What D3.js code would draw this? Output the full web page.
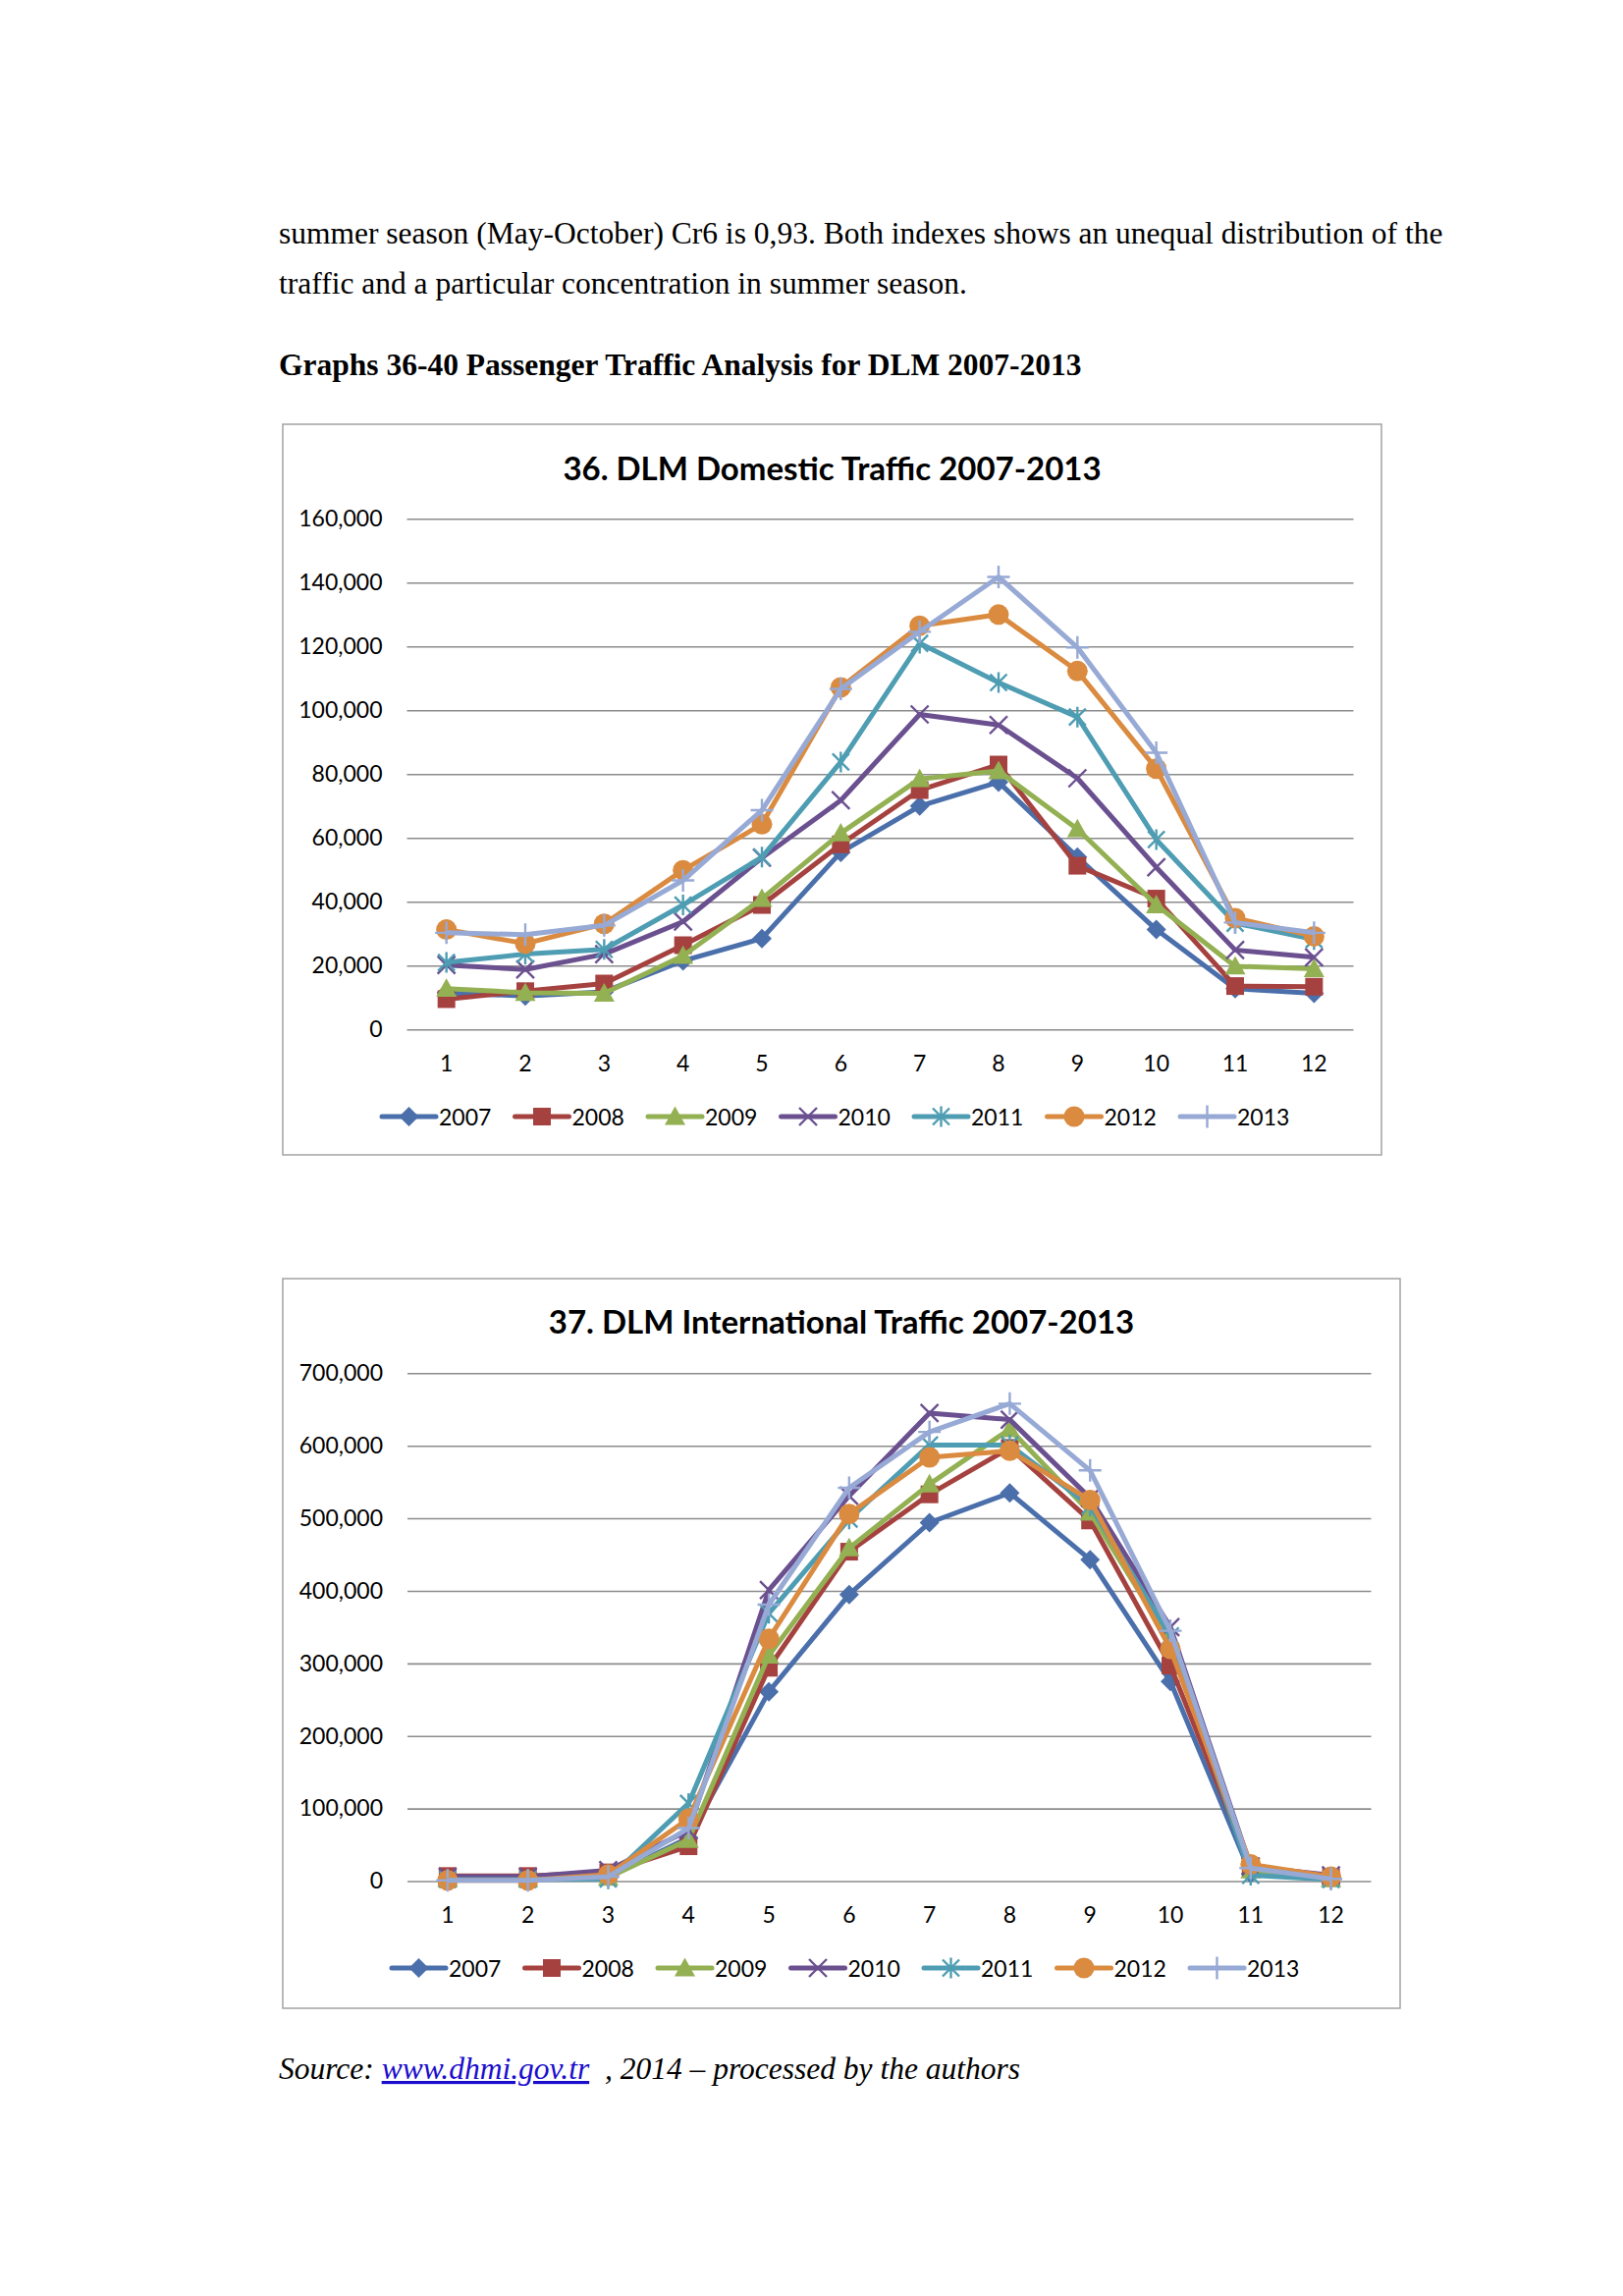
<!DOCTYPE html>
<html lang="en">
<head>
<meta charset="utf-8">
<title>DLM Passenger Traffic 2007-2013</title>
<script src="https://d3js.org/d3.v7.min.js"></script>
<style>
  body { margin: 0; background: #fff; }
</style>
</head>
<body>
<script>
var w = 1653;
var h = 2338;

// categories
var months = [1, 2, 3, 4, 5, 6, 7, 8, 9, 10, 11, 12];
var years = ["2007", "2008", "2009", "2010", "2011", "2012", "2013"];

// 36. domestic traffic
var domestic2007 = [11500, 10500, 11800, 21500, 28500, 55500, 70000, 77500, 54000, 31300, 12800, 11300];
var domestic2008 = [9500, 12000, 14400, 26400, 39000, 58000, 75000, 83000, 51300, 41000, 13600, 13400];
var domestic2009 = [12800, 11500, 11300, 23100, 41000, 61500, 78500, 81000, 62800, 39000, 19800, 19000];
var domestic2010 = [20200, 18800, 23600, 33800, 53800, 71800, 98700, 95400, 78700, 50800, 24900, 22600];
var domestic2011 = [21000, 23600, 25100, 39000, 54000, 83800, 121000, 108700, 97900, 59500, 33300, 28200];
var domestic2012 = [31300, 26900, 33100, 49900, 64300, 107200, 126500, 130000, 112300, 81700, 34900, 29200];
var domestic2013 = [30300, 29700, 32600, 46700, 68700, 106700, 124600, 141800, 119700, 86700, 33500, 30300];
var domesticTicks = [0, 20000, 40000, 60000, 80000, 100000, 120000, 140000, 160000];

// 37. international traffic
var intl2007 = [2000, 2000, 5000, 60000, 261000, 395000, 494000, 535000, 443000, 275000, 10000, 3000];
var intl2008 = [7000, 7000, 12000, 48000, 294000, 454000, 533000, 597000, 497000, 297000, 20000, 5000];
var intl2009 = [3000, 3000, 5000, 57000, 311000, 459000, 547000, 623000, 508000, 330000, 15000, 3000];
var intl2010 = [6000, 6000, 15000, 70000, 401000, 531000, 645000, 636000, 528000, 350000, 20000, 8000];
var intl2011 = [2000, 2000, 3000, 107000, 369000, 499000, 601000, 601000, 517000, 338000, 8000, 2000];
var intl2012 = [1000, 1000, 9000, 86000, 334000, 506000, 584000, 593000, 525000, 320000, 23000, 6000];
var intl2013 = [1000, 1000, 6000, 73000, 381000, 542000, 619000, 658000, 566000, 345000, 18000, 3000];
var intlTicks = [0, 100000, 200000, 300000, 400000, 500000, 600000, 700000];

var colors = ["#4a6fab", "#a5423f", "#93b052", "#6b5090", "#4e9db3", "#da8b40", "#97a9d5"];
var markers = ["diamond", "square", "triangle", "x", "star", "circle", "plus"];

var svg = d3.select("body")
  .append("svg")
  .attr("width", w)
  .attr("height", h);

svg.append("rect")
  .attr("width", w)
  .attr("height", h)
  .style("fill", "#fff");

// page text
var serif = "'Liberation Serif', 'Times New Roman', serif";
svg.append("text")
  .attr("x", 284).attr("y", 248)
  .style("font-family", serif).style("font-size", "31.5px")
  .text("summer season (May-October) Cr6 is 0,93. Both indexes shows an unequal distribution of the");
svg.append("text")
  .attr("x", 284).attr("y", 299)
  .style("font-family", serif).style("font-size", "31.5px")
  .text("traffic and a particular concentration in summer season.");
svg.append("text")
  .attr("x", 284).attr("y", 382)
  .style("font-family", serif).style("font-size", "31.5px").style("font-weight", "bold")
  .text("Graphs 36-40 Passenger Traffic Analysis for DLM 2007-2013");

var src = svg.append("text")
  .attr("x", 284).attr("y", 2117)
  .style("font-family", serif).style("font-size", "31.5px").style("font-style", "italic");
src.append("tspan").text("Source: ");
src.append("tspan").style("fill", "#1a0dcc").style("text-decoration", "underline").text("www.dhmi.gov.tr");
src.append("tspan").text("\u00a0\u00a0, 2014 \u2013 processed by the authors");

function drawMarker(g, type, color) {
  var r;
  if (type === "diamond") {
    r = 10;
    g.append("path").attr("d", "M0," + (-r) + "L" + r + ",0L0," + r + "L" + (-r) + ",0Z").style("fill", color);
  } else if (type === "square") {
    g.append("rect").attr("x", -9).attr("y", -9).attr("width", 18).attr("height", 18).style("fill", color);
  } else if (type === "triangle") {
    r = 10.5;
    g.append("path").attr("d", "M0," + (-r) + "L" + r + "," + (r * 0.8) + "L" + (-r) + "," + (r * 0.8) + "Z").style("fill", color);
  } else if (type === "x") {
    r = 9;
    g.append("path").attr("d", "M" + (-r) + "," + (-r) + "L" + r + "," + r + "M" + (-r) + "," + r + "L" + r + "," + (-r))
      .style("stroke", color).style("stroke-width", 2.4).style("fill", "none");
  } else if (type === "star") {
    r = 8.5;
    g.append("path").attr("d", "M" + (-r) + "," + (-r) + "L" + r + "," + r + "M" + (-r) + "," + r + "L" + r + "," + (-r) + "M0," + (-r - 2) + "L0," + (r + 2))
      .style("stroke", color).style("stroke-width", 2.4).style("fill", "none");
  } else if (type === "circle") {
    g.append("circle").attr("r", 10.5).style("fill", color);
  } else if (type === "plus") {
    r = 11.5;
    g.append("path").attr("d", "M" + (-r) + ",0L" + r + ",0M0," + (-r) + "L0," + r)
      .style("stroke", color).style("stroke-width", 2.4).style("fill", "none");
  }
}

function drawChart(cfg) {
  var g = svg.append("g");

  g.append("rect")
    .attr("x", cfg.frame[0]).attr("y", cfg.frame[1])
    .attr("width", cfg.frame[2] - cfg.frame[0])
    .attr("height", cfg.frame[3] - cfg.frame[1])
    .style("fill", "#fff").style("stroke", "#a3a3a3").style("stroke-width", 1.5);

  g.append("text")
    .attr("x", (cfg.frame[0] + cfg.frame[2]) / 2)
    .attr("y", cfg.titleY)
    .attr("text-anchor", "middle")
    .attr("dominant-baseline", "central")
    .style("font-family", "Lato, sans-serif").style("font-weight", "bold").style("font-size", "33px")
    .text(cfg.title);

  var x = d3.scaleBand().domain(months).range([cfg.left, cfg.right]);
  var y = d3.scaleLinear().domain([0, d3.max(cfg.ticks)]).range([cfg.bottom, cfg.top]);

  var yAxis = g.append("g")
    .attr("transform", "translate(" + cfg.left + ",0)")
    .call(d3.axisLeft(y).tickValues(cfg.ticks).tickFormat(d3.format(","))
      .tickSize(-(cfg.right - cfg.left)).tickPadding(25));
  yAxis.select(".domain").remove();
  yAxis.selectAll(".tick line").style("stroke", "#8c8c8c").style("stroke-width", 1.6);
  yAxis.selectAll(".tick text")
    .style("font-family", "Lato, sans-serif").style("font-size", "23px").style("fill", "#000");

  var xAxis = g.append("g")
    .attr("transform", "translate(0," + cfg.bottom + ")")
    .call(d3.axisBottom(x).tickSize(0).tickPadding(26));
  xAxis.select(".domain").remove();
  xAxis.selectAll(".tick text")
    .style("font-family", "Lato, sans-serif").style("font-size", "23px").style("fill", "#000");

  var line = d3.line()
    .x(function(d, i) { return x(months[i]) + x.bandwidth() / 2; })
    .y(function(d) { return y(d); });

  cfg.series.forEach(function(vals, k) {
    var s = g.append("g");
    s.append("path")
      .datum(vals)
      .attr("d", line)
      .style("fill", "none")
      .style("stroke", colors[k])
      .style("stroke-width", 5)
      .style("stroke-linejoin", "round");
    s.selectAll("g.mk")
      .data(vals)
      .enter()
      .append("g")
      .attr("class", "mk")
      .attr("transform", function(d, i) {
        return "translate(" + (x(months[i]) + x.bandwidth() / 2) + "," + y(d) + ")";
      })
      .each(function() { drawMarker(d3.select(this), markers[k], colors[k]); });
  });

  // legend
  var leg = g.selectAll("g.leg")
    .data(years)
    .enter()
    .append("g")
    .attr("class", "leg")
    .attr("transform", function(d, i) { return "translate(" + (cfg.legendX + i * 135.5) + "," + cfg.legendY + ")"; });
  leg.append("line")
    .attr("x1", 0).attr("x2", 55)
    .style("stroke", function(d, i) { return colors[i]; })
    .style("stroke-width", 5)
    .style("stroke-linecap", "round");
  leg.each(function(d, i) {
    var m = d3.select(this).append("g").attr("transform", "translate(27.5,0)");
    drawMarker(m, markers[i], colors[i]);
  });
  leg.append("text")
    .attr("x", 58)
    .attr("dominant-baseline", "central")
    .style("font-family", "Lato, sans-serif").style("font-size", "23px")
    .text(function(d) { return d; });
}

drawChart({
  title: "36. DLM Domestic Traffic 2007-2013",
  frame: [288, 432, 1407, 1176],
  titleY: 476,
  left: 414.5, right: 1378.5, top: 528.3, bottom: 1048.3,
  ticks: domesticTicks,
  series: [domestic2007, domestic2008, domestic2009, domestic2010, domestic2011, domestic2012, domestic2013],
  legendX: 389, legendY: 1137
});

drawChart({
  title: "37. DLM International Traffic 2007-2013",
  frame: [288, 1302, 1426, 2045],
  titleY: 1345,
  left: 415, right: 1396.5, top: 1398.3, bottom: 1915.5,
  ticks: intlTicks,
  series: [intl2007, intl2008, intl2009, intl2010, intl2011, intl2012, intl2013],
  legendX: 399, legendY: 2004
});
</script>
</body>
</html>
